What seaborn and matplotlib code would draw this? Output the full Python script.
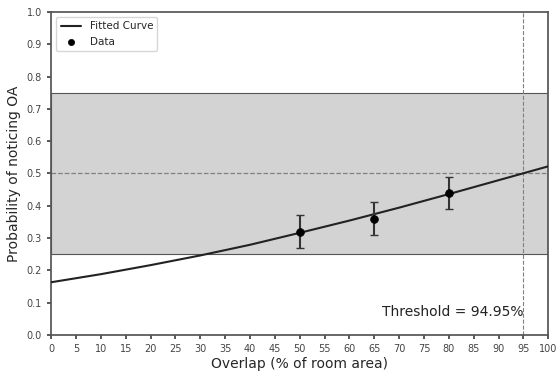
import numpy as np
import pandas as pd
import seaborn as sns
from matplotlib import pyplot as plt

sns.set_theme(style="ticks")
plt.rcParams["font.family"] = ["DejaVu Sans"]

# fitted curve
curve_x = [0, 10, 20, 30, 40, 50, 60, 70, 80, 90, 100]
curve_y = [0.163, 0.188, 0.216, 0.246, 0.279, 0.316, 0.354, 0.394, 0.436, 0.479, 0.522]

# data points
overlap = [50, 65, 80]
prob = [0.32, 0.36, 0.44]
err = [0.05, 0.05, 0.05]

threshold = 94.95
band = [0.25, 0.75]

curve = pd.DataFrame({"x": curve_x, "y": curve_y})
pts = pd.DataFrame({"x": overlap, "y": prob})

fig, ax = plt.subplots(figsize=(5.56, 3.75), dpi=100)
fig.subplots_adjust(left=0.092, right=0.986, top=0.968, bottom=0.107)

ax.axhspan(band[0], band[1], facecolor="lightgray", edgecolor="#555555", linewidth=0.8, zorder=0)
ax.axhline(0.5, color="gray", linestyle="--", linewidth=0.9, zorder=1)
ax.axvline(threshold, color="gray", linestyle="--", linewidth=0.8, zorder=1)

sns.lineplot(data=curve, x="x", y="y", color="#222222", linewidth=1.5, label="Fitted Curve", ax=ax, zorder=3)
ax.errorbar(overlap, prob, yerr=err, fmt="none", ecolor="#333333", capsize=3, elinewidth=1.5, zorder=4)
sns.scatterplot(data=pts, x="x", y="y", color="black", s=32, edgecolor="black", label="Data", ax=ax, zorder=5)

ax.text(threshold, 0.07, f"Threshold = {threshold:.2f}%", ha="right", va="center", fontsize=10, color="#222222")

ax.set_xlim(0, 100)
ax.set_ylim(0, 1)
ax.set_xticks(np.arange(0, 101, 5))
ax.set_yticks(np.arange(0, 1.01, 0.1))
ax.set_yticklabels([f"{v:.1f}" for v in np.arange(0, 1.01, 0.1)])
ax.tick_params(labelsize=7, colors="#444444", length=3)
for s in ax.spines.values():
    s.set_color("#555555")
ax.set_xlabel("Overlap (% of room area)", fontsize=10, labelpad=2)
ax.set_ylabel("Probability of noticing OA", fontsize=10)
ax.legend(loc="upper left", fontsize=7.5, frameon=True, markerscale=0.8)

plt.savefig("out.png")
plt.close()
